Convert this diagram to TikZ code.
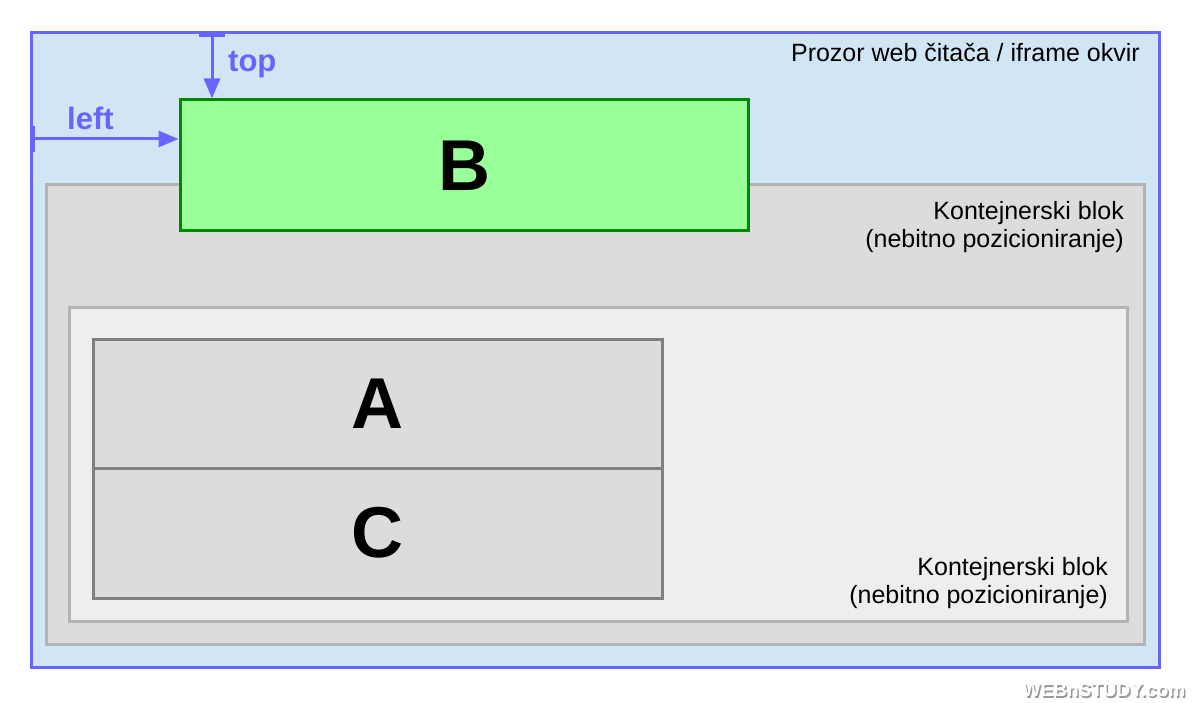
\documentclass[tikz,border=0pt]{standalone}
\usepackage{fontspec}
\setmainfont{Liberation Sans}
\usetikzlibrary{positioning,arrows.meta}
\definecolor{winfill}{HTML}{D0E6F4}
\definecolor{winline}{HTML}{6666FF}
\definecolor{boxfill}{HTML}{DCDCDC}
\definecolor{boxline}{HTML}{B3B3B3}
\definecolor{innerfill}{HTML}{EEEEEE}
\definecolor{blockline}{HTML}{808080}
\definecolor{greenfill}{HTML}{99FF99}
\definecolor{greenline}{HTML}{008800}
\begin{document}
\begin{tikzpicture}[x=1pt,y=-1pt,
        box/.style={draw, line width=3pt, inner sep=0pt, outer sep=0pt, anchor=north west},
        letter/.style={font=\fontsize{72}{80}\selectfont\bfseries},
        note/.style={font=\fontsize{25}{28}\selectfont, align=right, inner sep=0pt},
        offset/.style={draw=winline, line width=3pt, shorten >=1.5pt, {Bar[width=26pt]}-{Triangle[length=20pt,width=16pt]}},
        offlabel/.style={text=winline, font=\fontsize{31}{36}\selectfont\bfseries, inner sep=0pt}]
        \useasboundingbox (0,0) rectangle (1194,703);
        % browser window and nested containers
        \node[box, fill=winfill, draw=winline, minimum width=1128pt, minimum height=634pt] (window) at (31,33) {};
        \node[box, fill=boxfill, draw=boxline, minimum width=1098pt, minimum height=459pt] (outerblock) at (46,185) {};
        \node[box, fill=innerfill, draw=boxline, minimum width=1058pt, minimum height=313pt] (innerblock) at (69,308) {};
        \node[box, letter, fill=boxfill, draw=blockline, minimum width=569pt, minimum height=129pt] (A) at (93,339) {A};
        \node[box, letter, fill=boxfill, draw=blockline, minimum width=569pt, minimum height=130pt, anchor=north] (C) at (A.south) {C};
        \node[box, letter, fill=greenfill, draw=greenline, minimum width=568pt, minimum height=131pt] (B) at (180,100) {B};
        % offsets of B
        \coordinate (topstart) at (212,34);
        \coordinate (leftstart) at (32,139);
        \draw[offset] (topstart) -- (topstart |- B.north);
        \draw[offset] (leftstart) -- (leftstart -| B.west);
        \node[offlabel, anchor=base west] (toplabel) at (228,72) {top};
        \node[offlabel, anchor=base west] (leftlabel) at (67,130) {left};
        % labels
        \node[note, anchor=base east] (windowlabel) at (1140,62) {Prozor web čitača / iframe okvir};
        \node[note, anchor=north east] (outerlabel) at (1124,201) {Kontejnerski blok\\(nebitno pozicioniranje)};
        \node[note, anchor=north east] (innerlabel) at (1108,557) {Kontejnerski blok\\(nebitno pozicioniranje)};
        \node[font=\fontsize{19}{22}\selectfont\bfseries, text=gray!80] (markshadow) at (1105.5,691.5) {WEBnSTUDY.com};
        \node[font=\fontsize{19}{22}\selectfont\bfseries, text=white] (mark) at (1104,690) {WEBnSTUDY.com};
    \end{tikzpicture}
\end{document}
